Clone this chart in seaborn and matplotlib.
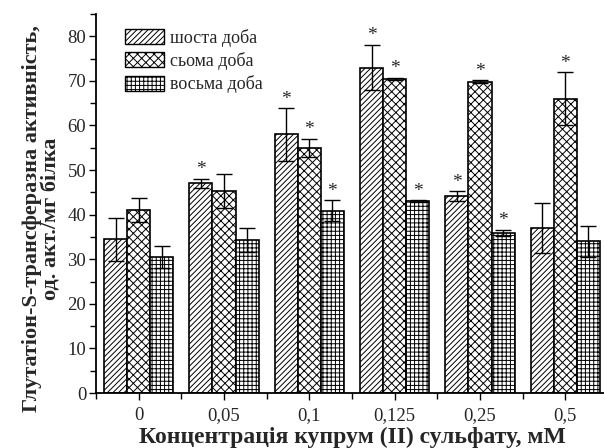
import numpy as np
import pandas as pd
import seaborn as sns
import matplotlib.pyplot as plt
import matplotlib.patches as mpatches
from matplotlib.ticker import MultipleLocator, FixedLocator

# Дані, зчитані з рисунку
koncentracii = ["0", "0,05", "0,1", "0,125", "0,25", "0,5"]
doby = ["шоста доба", "сьома доба", "восьма доба"]

shosta = [34.5, 47.0, 58.0, 73.0, 44.2, 37.0]
shosta_err = [4.8, 1.1, 5.9, 5.1, 1.1, 5.7]
shosta_zirka = [False, True, True, True, True, False]

soma = [41.1, 45.4, 55.0, 70.5, 69.8, 66.0]
soma_err = [2.7, 3.8, 2.0, 0.2, 0.3, 6.0]
soma_zirka = [False, False, True, True, True, True]

vosma = [30.5, 34.4, 40.9, 43.1, 35.9, 34.0]
vosma_err = [2.5, 2.7, 2.4, 0.2, 0.7, 3.5]
vosma_zirka = [False, False, True, True, True, False]

shtrykhy = ["//////", "xxxx", "++++"]

sns.set_style("ticks")
plt.rcParams['font.family'] = ['Liberation Serif', 'DejaVu Serif']
plt.rcParams['hatch.linewidth'] = 0.7
plt.rcParams['hatch.color'] = 'black'

df = pd.DataFrame({
    "conc": koncentracii * 3,
    "doba": [d for d in doby for _ in koncentracii],
    "val": shosta + soma + vosma,
})
errs = [shosta_err, soma_err, vosma_err]
zirky = [shosta_zirka, soma_zirka, vosma_zirka]

fig = plt.figure(figsize=(6.04, 4.48), dpi=100)
ax = fig.add_axes([96 / 604, 55 / 448, 512 / 604, 379 / 448])

sns.barplot(data=df, x="conc", y="val", hue="doba", order=koncentracii,
            hue_order=doby, errorbar=None, width=0.81, gap=0,
            palette=["white"] * 3, edgecolor="black", linewidth=1.2,
            legend=False, ax=ax)

# Штриховка, похибки та зірочки для кожної доби
bar_conts = list(ax.containers)
for k, cont in enumerate(bar_conts):
    for i, bar in enumerate(cont):
        bar.set_hatch(shtrykhy[k])
        bar.set_facecolor("white")
        xc = bar.get_x() + bar.get_width() / 2
        h = bar.get_height()
        ax.errorbar(xc, h, yerr=errs[k][i], fmt="none", ecolor="black",
                    elinewidth=1.0, capsize=6, capthick=1.0, zorder=5)
        if zirky[k][i]:
            ax.text(xc, h + errs[k][i] + 2.0, "*", ha="center", va="center",
                    fontsize=14, zorder=6)

ax.set_xlim(-0.5, 5.5)
ax.set_ylim(0, 85)
ax.yaxis.set_major_locator(MultipleLocator(10))
ax.yaxis.set_minor_locator(MultipleLocator(5))
ax.set_yticks(np.arange(0, 81, 10))
ax.xaxis.set_minor_locator(FixedLocator(np.arange(-0.5, 5.6, 1)))
ax.tick_params(axis="both", which="major", direction="out", length=5,
               width=1.0, labelsize=13.5, color="black", pad=2)
ax.tick_params(axis="both", which="minor", direction="out", length=4,
               width=1.0, color="black")
ax.tick_params(axis="x", which="major", pad=5)
for s in ["left", "bottom"]:
    ax.spines[s].set_linewidth(1.3)
    ax.spines[s].set_color("black")
sns.despine(ax=ax)

ax.set_xlabel("Концентрація купрум (II) сульфату, мМ", fontsize=17,
              fontweight="bold", labelpad=2)
ax.set_ylabel("Глутатіон-S-трансферазна активність,\nод. акт./мг білка",
              fontsize=16, fontweight="bold", linespacing=1.0)
ax.yaxis.set_label_coords(-0.067, 0.46)

handles = [mpatches.Patch(facecolor="white", edgecolor="black", hatch=h,
                          linewidth=1.0) for h in shtrykhy]
ax.legend(handles, doby, loc="upper left", bbox_to_anchor=(0.035, 0.99),
          frameon=False, fontsize=13, handlelength=2.2, handleheight=0.9,
          handletextpad=0.3, labelspacing=0.3, borderaxespad=0.2)

fig.savefig("out.png", dpi=100)
